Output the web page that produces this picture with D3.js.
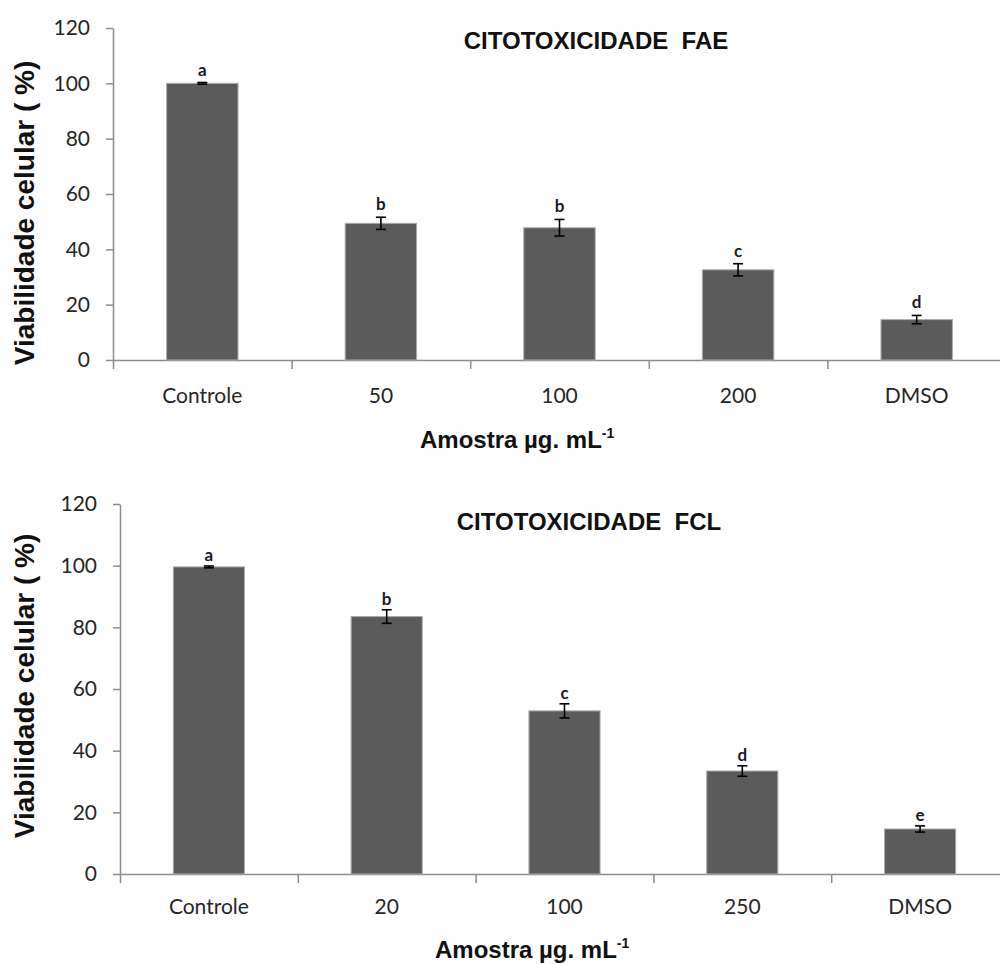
<!DOCTYPE html>
<html>
<head>
<meta charset="utf-8">
<script src="https://cdn.jsdelivr.net/npm/d3@7"></script>
<style>
  body { margin: 0; background: #fff; }
  .axis path, .axis line { stroke: #8c8c8c; stroke-width: 1.5; }
  .axis text { font-family: Lato, sans-serif; font-size: 21px; fill: #262626; }
</style>
</head>
<body>
<div class="chart-container"></div>
<script>
// dados
const yTicks = [0, 20, 40, 60, 80, 100, 120];

const faeCategories = ['Controle', '50', '100', '200', 'DMSO'];
const faeValues = [100, 49.4, 47.8, 32.6, 14.6];
const faeErrors = [0.3, 2.2, 3.0, 2.2, 1.5];
const faeLetters = ['a', 'b', 'b', 'c', 'd'];

const fclCategories = ['Controle', '20', '100', '250', 'DMSO'];
const fclValues = [99.6, 83.5, 52.9, 33.4, 14.6];
const fclErrors = [0.3, 2.2, 2.3, 1.7, 1.0];
const fclLetters = ['a', 'b', 'c', 'd', 'e'];

const svg = d3.select('.chart-container')
  .append('svg')
  .attr('width', 1000)
  .attr('height', 964);

function drawChart(cfg) {
  const data = cfg.categories.map((c, i) => ({
    cat: c, value: cfg.values[i], err: cfg.errors[i], letter: cfg.letters[i]
  }));

  const g = svg.append('g')
    .attr('transform', `translate(${cfg.left},${cfg.top})`);

  const xScale = d3.scaleBand()
    .domain(cfg.categories)
    .range([0, cfg.width])
    .paddingInner(0.6)
    .paddingOuter(0.3);
  const yScale = d3.scaleLinear([0, 120], [cfg.height, 0]);

  // eixo y
  g.append('g')
    .attr('class', 'axis')
    .call(d3.axisLeft(yScale)
      .tickValues(yTicks)
      .tickSizeInner(7)
      .tickSizeOuter(0)
      .tickPadding(cfg.yPad));

  // eixo x: rótulos centrados
  const xAxisG = g.append('g')
    .attr('class', 'axis')
    .attr('transform', `translate(0,${cfg.height})`)
    .call(d3.axisBottom(xScale).tickSize(0).tickPadding(cfg.xPad));
  xAxisG.select('.domain').remove();

  // marcas entre categorias
  const edge = d3.scaleLinear([0, cfg.categories.length], [0, cfg.width]);
  g.append('g')
    .attr('class', 'axis')
    .attr('transform', `translate(0,${cfg.height})`)
    .call(d3.axisBottom(edge)
      .tickValues(d3.range(cfg.categories.length + 1))
      .tickSizeInner(9)
      .tickSizeOuter(0)
      .tickFormat(''));

  // barras
  g.selectAll('.bar')
    .data(data)
    .join('rect')
    .attr('class', 'bar')
    .attr('x', d => xScale(d.cat))
    .attr('y', d => yScale(d.value))
    .attr('width', xScale.bandwidth())
    .attr('height', d => yScale(0) - yScale(d.value))
    .style('fill', '#5b5b5b')
    .style('stroke', '#ababab')
    .style('stroke-width', 1);

  // barras de erro
  const cx = d => xScale(d.cat) + xScale.bandwidth() / 2;
  const eb = g.selectAll('.err')
    .data(data)
    .join('g')
    .attr('class', 'err')
    .style('stroke', '#000')
    .style('stroke-width', 1.6);
  eb.append('line')
    .attr('x1', cx).attr('x2', cx)
    .attr('y1', d => yScale(d.value + d.err))
    .attr('y2', d => yScale(d.value - d.err));
  eb.append('line')
    .attr('x1', d => cx(d) - 5).attr('x2', d => cx(d) + 5)
    .attr('y1', d => yScale(d.value + d.err))
    .attr('y2', d => yScale(d.value + d.err));
  eb.append('line')
    .attr('x1', d => cx(d) - 5).attr('x2', d => cx(d) + 5)
    .attr('y1', d => yScale(d.value - d.err))
    .attr('y2', d => yScale(d.value - d.err));

  // letras de significância
  g.selectAll('.letter')
    .data(data)
    .join('text')
    .attr('class', 'letter')
    .attr('x', cx)
    .attr('y', d => yScale(d.value + d.err) - cfg.letterGap)
    .attr('text-anchor', 'middle')
    .style('font-family', 'Lato, sans-serif')
    .style('font-weight', 'bold')
    .style('font-size', '17px')
    .style('fill', '#1a1a2a')
    .text(d => d.letter);

  // título
  svg.append('text')
    .attr('x', cfg.titleX)
    .attr('y', cfg.titleY)
    .attr('text-anchor', 'middle')
    .style('white-space', 'pre')
    .style('font-family', '"Liberation Sans", Arial, sans-serif')
    .style('font-weight', 'bold')
    .style('font-size', '24px')
    .style('fill', '#111')
    .text(cfg.title);

  // título eixo y
  svg.append('text')
    .attr('transform', `translate(34,${cfg.yTitleY}) rotate(-90)`)
    .attr('text-anchor', 'middle')
    .style('font-family', '"Liberation Sans", Arial, sans-serif')
    .style('font-weight', 'bold')
    .style('font-size', '28px')
    .style('fill', '#111')
    .text('Viabilidade celular ( %)');

  // título eixo x
  const xt = svg.append('text')
    .attr('x', cfg.xTitleX)
    .attr('y', cfg.xTitleY)
    .style('font-family', '"Liberation Sans", Arial, sans-serif')
    .style('font-weight', 'bold')
    .style('font-size', '24px')
    .style('fill', '#111');
  xt.append('tspan').text('Amostra µg. mL');
  xt.append('tspan')
    .attr('dy', -10)
    .style('font-size', '14px')
    .text('-1');
}

drawChart({
  categories: faeCategories, values: faeValues, errors: faeErrors, letters: faeLetters,
  left: 113, top: 28, width: 893, height: 332,
  yPad: 16, xPad: 28, letterGap: 7,
  title: 'CITOTOXICIDADE  FAE', titleX: 596, titleY: 49,
  yTitleY: 213, xTitleX: 420, xTitleY: 448
});

drawChart({
  categories: fclCategories, values: fclValues, errors: fclErrors, letters: fclLetters,
  left: 120, top: 504, width: 889, height: 370,
  yPad: 16, xPad: 25, letterGap: 5,
  title: 'CITOTOXICIDADE  FCL', titleX: 589, titleY: 530,
  yTitleY: 686, xTitleX: 435, xTitleY: 958
});
</script>
</body>
</html>
